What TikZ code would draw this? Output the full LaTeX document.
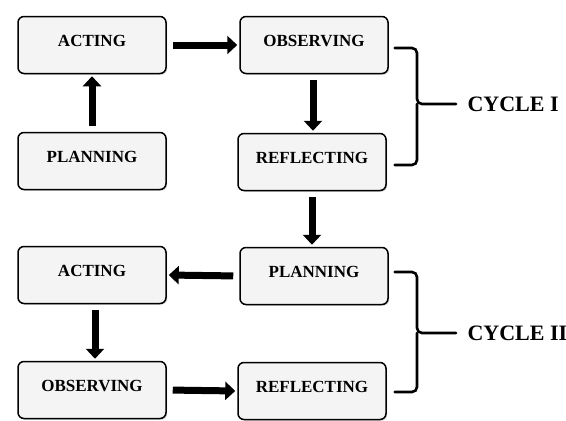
\documentclass[tikz,border=0pt]{standalone}
\usepackage{fontspec}
\setmainfont{Liberation Serif}
\usetikzlibrary{calc,arrows.meta,shadows}
\definecolor{boxgray}{RGB}{244,244,244}

\begin{document}
\begin{tikzpicture}[x=1pt, y=-1pt]
  \tikzstyle{mybox}=[draw=black, fill=boxgray, line width=1.5pt, rounded corners=6pt,
    minimum width=148pt, minimum height=57pt, text height=12pt, text depth=9pt,
    font=\fontsize{17}{18}\selectfont\bfseries,
    drop shadow={opacity=0.35, shadow xshift=1.2pt, shadow yshift=-1.2pt}];
  \tikzstyle{myconn}=[line width=7pt, -{Triangle[width=18pt, length=10pt]},
    shorten <=6pt, shorten >=2pt];
  \tikzstyle{mybrace}=[line width=2.6pt, rounded corners=5pt, line cap=round];
  \tikzstyle{mycycle}=[anchor=west, font=\fontsize{22}{24}\selectfont\bfseries];
  %
  \useasboundingbox (0, 0) rectangle (566, 421);
  %
  % cycle I
  \node[mybox] (act1) at (92, 45) {ACTING};
  \node[mybox] (obs1) at (314, 45) {OBSERVING};
  \node[mybox] (pln1) at (92, 161) {PLANNING};
  \node[mybox] (ref1) at (312, 162) {REFLECTING};
  %
  % cycle II
  \node[mybox] (act2) at (92, 275) {ACTING};
  \node[mybox] (pln2) at (314, 276) {PLANNING};
  \node[mybox] (obs2) at (92, 390) {OBSERVING};
  \node[mybox] (ref2) at (312, 391) {REFLECTING};
  %
  % labels
  \node[mycycle] (cyc1) at (464, 104) {CYCLE I};
  \node[mycycle] (cyc2) at (464, 333) {CYCLE II};
  %
  % connections
  \draw[myconn] (pln1.north) -- (act1.south);
  \draw[myconn] (act1.east) -- (obs1.west);
  \draw[myconn] ($(obs1.south) + (-1, 0)$) -- ($(obs1.south |- ref1.north) + (-1, 0)$);
  \draw[myconn] (ref1.south) -- (ref1.south |- pln2.north);
  \draw[myconn] (pln2.west) -- (act2.east);
  \draw[myconn] ($(act2.south) + (3, 0)$) -- ($(obs2.north) + (3, 0)$);
  \draw[myconn] (obs2.east) -- (ref2.west);
  %
  % brackets
  \coordinate (b1) at (417, 104);
  \coordinate (b2) at (417, 333);
  \draw[mybrace] ($(obs1.east) + (6, 3)$) -| (b1) -- ($(cyc1.west) + (-8, 0)$);
  \draw[mybrace] ($(ref1.east) + (8, 3)$) -| (b1);
  \draw[mybrace] ($(pln2.east) + (6, -4)$) -| (b2) -- ($(cyc2.west) + (-8, 0)$);
  \draw[mybrace] ($(ref2.east) + (8, 1)$) -| (b2);
\end{tikzpicture}
\end{document}
